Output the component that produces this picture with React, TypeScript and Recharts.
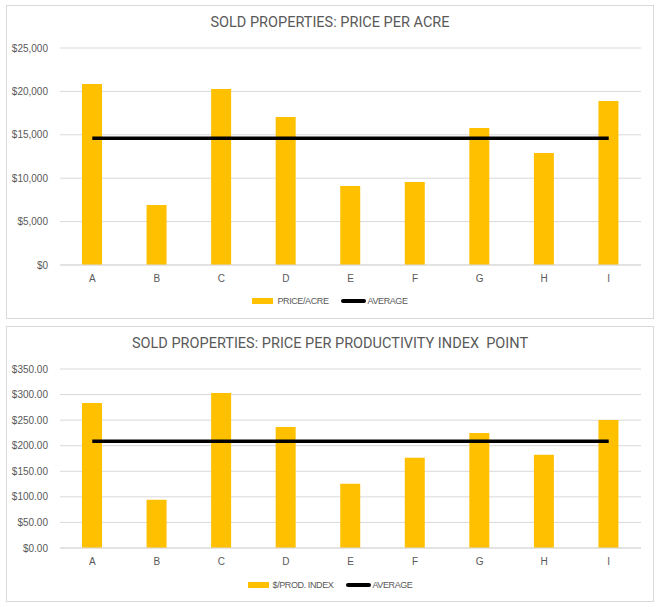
import React from "react";
import { ComposedChart, Bar, Line, XAxis, YAxis, CartesianGrid, Legend } from "recharts";

const categories = ["A", "B", "C", "D", "E", "F", "G", "H", "I"];
const pricePerAcre = [20850, 6900, 20280, 17050, 9100, 9560, 15780, 12900, 18890];
const averagePerAcre = [14590, 14590, 14590, 14590, 14590, 14590, 14590, 14590, 14590];
const pricePerIndex = [283.6, 94.3, 303.2, 236.8, 125.5, 176.3, 225.1, 182.1, 250.4];
const averagePerIndex = [208.6, 208.6, 208.6, 208.6, 208.6, 208.6, 208.6, 208.6, 208.6];
const acreTicks = [0, 5000, 10000, 15000, 20000, 25000];
const indexTicks = [0, 50, 100, 150, 200, 250, 300, 350];

const acreData = categories.map((c, i) => ({ name: c, value: pricePerAcre[i], avg: averagePerAcre[i] }));
const indexData = categories.map((c, i) => ({ name: c, value: pricePerIndex[i], avg: averagePerIndex[i] }));

const GOLD = "#FFC000";
const GREY = "#595959";
const GRID = "#d9d9d9";
const TICK_FONT = { fill: GREY, fontSize: 10, fontFamily: "Liberation Sans, Arial, sans-serif" };

function LegendRow({ barName }: { barName: string }) {
  return (
    <div style={{ display: "flex", justifyContent: "center", alignItems: "center", fontFamily: "Liberation Sans, Arial, sans-serif", fontSize: 9, letterSpacing: -0.4, color: GREY, height: 16 }}>
      <span style={{ width: 21, height: 6, background: GOLD, marginRight: 4 }} />
      <span style={{ marginRight: 13 }}>{barName}</span>
      <span style={{ width: 25, height: 3.5, background: "#000", borderRadius: 2, marginRight: 1 }} />
      <span>AVERAGE</span>
    </div>
  );
}

interface PanelProps {
  top: number;
  height: number;
  title: string;
  data: { name: string; value: number; avg: number }[];
  ticks: number[];
  barName: string;
  fmt: (v: number) => string;
  legendTop: number;
}

function Panel({ top, height, title, data, ticks, barName, fmt, legendTop }: PanelProps) {
  const w = 646;
  const h = height - 2;
  return (
    <div style={{ position: "absolute", left: 6, top, width: 648, height, boxSizing: "border-box", border: `1px solid ${GRID}`, background: "#fff" }}>
      <div style={{ position: "absolute", left: 0, top: 7, width: w, textAlign: "center", fontFamily: "Roboto, sans-serif", fontSize: 14.5, lineHeight: "20px", color: GREY, whiteSpace: "pre" }}>
        {title}
      </div>
      <div style={{ position: "absolute", left: 0, top: 0 }}>
        <ComposedChart width={w} height={h} data={data} margin={{ top: 42, right: 12, left: 0, bottom: 0 }}>
          <CartesianGrid vertical={false} stroke={GRID} />
          <XAxis dataKey="name" height={53} tick={TICK_FONT} tickLine={false} tickMargin={4} axisLine={{ stroke: GRID }} />
          <YAxis width={53} domain={[0, ticks[ticks.length - 1]]} ticks={ticks} tick={TICK_FONT} tickLine={false} axisLine={false} tickMargin={6} tickFormatter={fmt} interval={0} />
          <Legend verticalAlign="middle" wrapperStyle={{ top: legendTop, left: 0, width: w, height: 16 }} content={() => <LegendRow barName={barName} />} />
          <Bar dataKey="value" name={barName} fill={GOLD} barSize={20} isAnimationActive={false} />
          <Line dataKey="avg" name="AVERAGE" stroke="#000" strokeWidth={3.5} dot={false} activeDot={false} isAnimationActive={false} />
        </ComposedChart>
      </div>
    </div>
  );
}

export default function App() {
  return (
    <div style={{ position: "absolute", left: 0, top: 0, width: 662, height: 607, background: "#fff" }}>
      <Panel
        top={5}
        height={314}
        title="SOLD PROPERTIES: PRICE PER ACRE"
        data={acreData}
        ticks={acreTicks}
        barName="PRICE/ACRE"
        fmt={(v) => `$${v.toLocaleString("en-US")}`}
        legendTop={287}
      />
      <Panel
        top={326}
        height={276}
        title="SOLD PROPERTIES: PRICE PER PRODUCTIVITY INDEX  POINT"
        data={indexData}
        ticks={indexTicks}
        barName="$/PROD. INDEX"
        fmt={(v) => `$${v.toFixed(2)}`}
        legendTop={250}
      />
    </div>
  );
}
